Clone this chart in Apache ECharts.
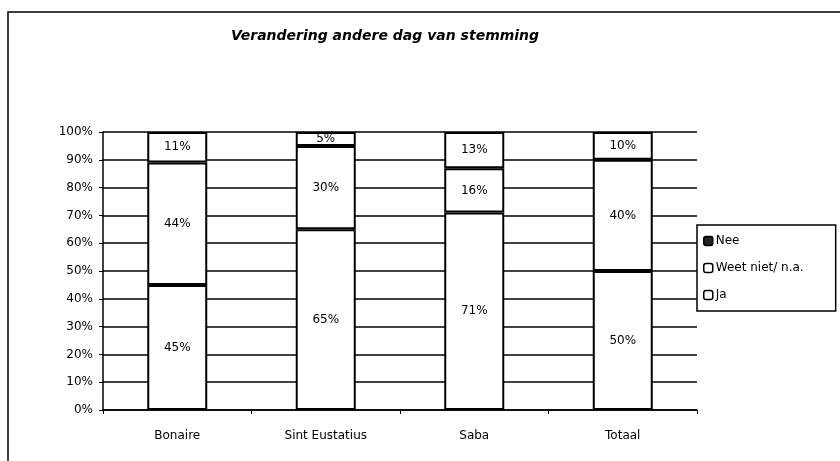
<!DOCTYPE html>
<html>
<head>
<meta charset="utf-8">
<script src="https://cdn.jsdelivr.net/npm/echarts@6/dist/echarts.min.js"></script>
<style>
  html, body { margin: 0; padding: 0; background: #fff; }
</style>
</head>
<body>
<div id="main" style="width: 840px; height: 461px"></div>
<script>
// categorieen en percentages
const categories = ['Bonaire', 'Sint Eustatius', 'Saba', 'Totaal'];
const ja = [45, 65, 71, 50];
const weetNiet = [44, 30, 16, 40];
const nee = [11, 5, 13, 10];

const chart = echarts.init(document.getElementById('main'));

const barStyle = {
  color: '#fff',
  borderColor: '#000',
  borderWidth: 2
};
const labelStyle = {
  show: true,
  position: 'inside',
  color: '#000',
  fontSize: 12,
  fontFamily: 'DejaVu Sans',
  formatter: p => p.value + '%'
};

function makeSeries(name, data) {
  return {
    name: name,
    type: 'bar',
    stack: 'totaal',
    barWidth: 60,
    data: data,
    itemStyle: barStyle,
    label: labelStyle
  };
}

const option = {
  animation: false,
  title: {
    text: 'Verandering andere dag van stemming',
    left: 380,
    top: 24,
    textAlign: 'center',
    textStyle: {
      fontSize: 14,
      fontStyle: 'italic',
      fontWeight: 'bold',
      fontFamily: 'DejaVu Sans',
      color: '#000'
    }
  },
  graphic: [{
    type: 'rect',
    shape: { x: 8, y: 12, width: 900, height: 500 },
    style: { fill: 'none', stroke: '#000', lineWidth: 1.5 },
    silent: true
  }],
  legend: {
    orient: 'vertical',
    left: 697,
    top: 225,
    itemWidth: 9,
    itemHeight: 9,
    itemGap: 15,
    padding: [10, 32, 10, 6],
    borderColor: '#000',
    borderWidth: 1.5,
    backgroundColor: '#fff',
    textStyle: { fontSize: 12, fontFamily: 'DejaVu Sans', color: '#000', padding: [0, 0, 0, -2] },
    data: [
      { name: 'Nee', itemStyle: { color: '#222', borderColor: '#000', borderWidth: 1.5 } },
      { name: 'Weet niet/ n.a.', itemStyle: { color: '#fff', borderColor: '#000', borderWidth: 1.5 } },
      { name: 'Ja', itemStyle: { color: '#fff', borderColor: '#000', borderWidth: 1.5 } }
    ]
  },
  grid: {
    left: 103,
    right: 143,
    top: 132,
    bottom: 51
  },
  xAxis: {
    type: 'category',
    data: categories,
    axisLine: { lineStyle: { color: '#000', width: 1.5 } },
    axisTick: { show: true, length: 4, lineStyle: { color: '#000' } },
    axisLabel: {
      color: '#000',
      fontSize: 12,
      fontFamily: 'DejaVu Sans',
      margin: 20
    }
  },
  yAxis: {
    type: 'value',
    min: 0,
    max: 100,
    interval: 10,
    axisLine: { show: true, lineStyle: { color: '#000', width: 1.5 } },
    axisTick: { show: true, length: 4, lineStyle: { color: '#000' } },
    axisLabel: {
      color: '#000',
      fontSize: 12,
      fontFamily: 'DejaVu Sans',
      margin: 10,
      formatter: '{value}%'
    },
    splitLine: { lineStyle: { color: '#000', width: 1.5 } }
  },
  series: [
    makeSeries('Ja', ja),
    makeSeries('Weet niet/ n.a.', weetNiet),
    makeSeries('Nee', nee)
  ]
};

chart.setOption(option);
</script>
</body>
</html>
